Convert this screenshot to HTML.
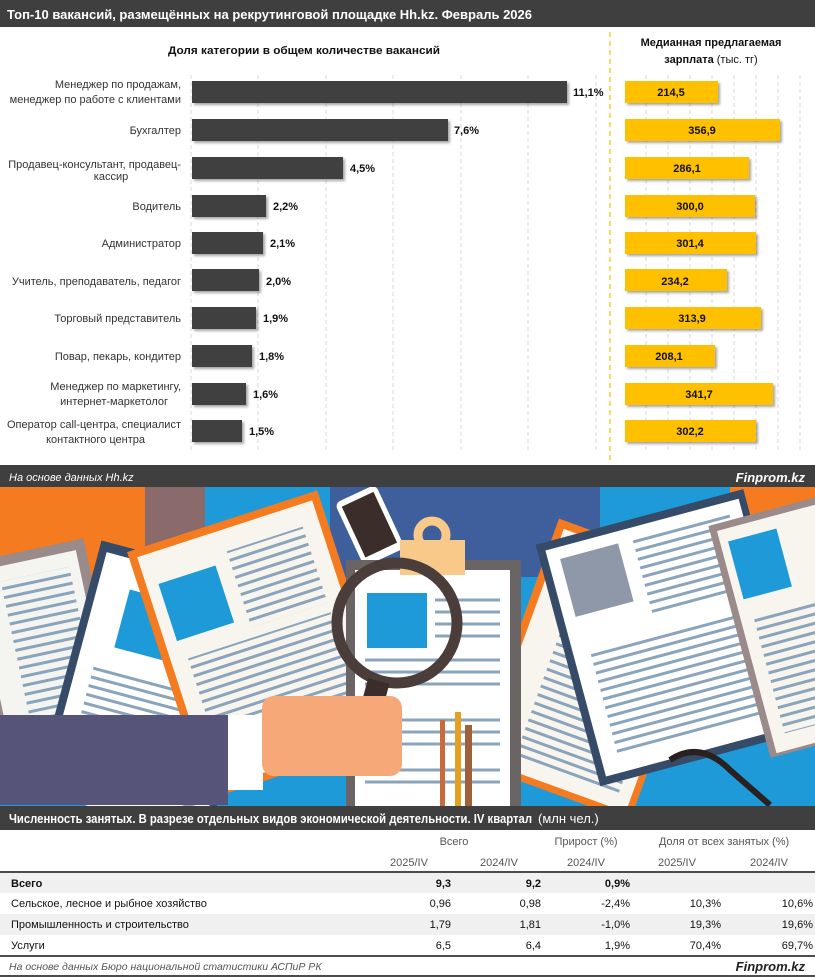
<!DOCTYPE html>
<html><head><meta charset="utf-8"><style>
body{margin:0;background:#fff;}
svg{display:block;font-family:"Liberation Sans","DejaVu Sans",sans-serif;}
</style></head><body>
<svg width="815" height="977" viewBox="0 0 815 977" xmlns="http://www.w3.org/2000/svg">
<defs>
<filter id="sh" x="-10%" y="-20%" width="130%" height="160%"><feDropShadow dx="2" dy="2" stdDeviation="1.2" flood-color="#000" flood-opacity="0.35"/></filter>
<clipPath id="ic"><rect x="0" y="487" width="815" height="319"/></clipPath>
<pattern id="ln" width="10" height="9" patternUnits="userSpaceOnUse"><rect width="10" height="3" fill="#8aa4bb"/></pattern>
</defs>
<rect width="815" height="977" fill="#fff"/>
<rect x="0" y="0" width="815" height="27" fill="#3f3f3f"/>
<text x="7" y="19" fill="#fff" font-size="13" font-weight="bold" textLength="525" lengthAdjust="spacingAndGlyphs">Топ-10 вакансий, размещённых на рекрутинговой площадке Hh.kz. Февраль 2026</text>
<text x="304" y="54" text-anchor="middle" font-size="11" font-weight="bold" fill="#111" textLength="272" lengthAdjust="spacingAndGlyphs">Доля категории в общем количестве вакансий</text>
<text x="711" y="46" text-anchor="middle" font-size="11" font-weight="bold" fill="#111">Медианная предлагаемая</text>
<text x="711" y="63" text-anchor="middle" font-size="11" fill="#111"><tspan font-weight="bold">зарплата</tspan> (тыс. тг)</text>
<g stroke="#d8d8d8" stroke-dasharray="4,3" stroke-width="1">
<line x1="191" y1="75" x2="191" y2="450"/><line x1="258" y1="75" x2="258" y2="450"/><line x1="326" y1="75" x2="326" y2="450"/><line x1="393" y1="75" x2="393" y2="450"/><line x1="461" y1="75" x2="461" y2="450"/><line x1="528" y1="75" x2="528" y2="450"/><line x1="596" y1="75" x2="596" y2="450"/>
<line x1="646" y1="75" x2="646" y2="450"/><line x1="668" y1="75" x2="668" y2="450"/><line x1="690" y1="75" x2="690" y2="450"/><line x1="712" y1="75" x2="712" y2="450"/><line x1="734" y1="75" x2="734" y2="450"/><line x1="756" y1="75" x2="756" y2="450"/><line x1="778" y1="75" x2="778" y2="450"/><line x1="800" y1="75" x2="800" y2="450"/>
</g>
<line x1="610" y1="32" x2="610" y2="460" stroke="#f5c000" stroke-dasharray="5,4" stroke-width="1.2"/>
<g font-size="11" fill="#333" text-anchor="end">
<text x="181" y="88">Менеджер по продажам,</text><text x="181" y="103">менеджер по работе с клиентами</text>
<text x="181" y="134">Бухгалтер</text>
<text x="181" y="168">Продавец-консультант, продавец-</text><text x="111" y="180" text-anchor="middle">кассир</text>
<text x="181" y="210">Водитель</text>
<text x="181" y="247">Администратор</text>
<text x="181" y="285">Учитель, преподаватель, педагог</text>
<text x="181" y="322">Торговый представитель</text>
<text x="181" y="360">Повар, пекарь, кондитер</text>
<text x="181" y="390">Менеджер по маркетингу,</text><text x="168" y="405">интернет-маркетолог</text>
<text x="181" y="428">Оператор call-центра, специалист</text><text x="145" y="443">контактного центра</text>
</g>
<g fill="#404040" filter="url(#sh)">
<rect x="192" y="81" width="375" height="22"/>
<rect x="192" y="119" width="256" height="22"/>
<rect x="192" y="157" width="151" height="22"/>
<rect x="192" y="195" width="74" height="22"/>
<rect x="192" y="232" width="71" height="22"/>
<rect x="192" y="269" width="67" height="22"/>
<rect x="192" y="307" width="64" height="22"/>
<rect x="192" y="345" width="60" height="22"/>
<rect x="192" y="383" width="54" height="22"/>
<rect x="192" y="420" width="50" height="22"/>
</g>
<g font-size="11" font-weight="bold" fill="#111">
<text x="573" y="96">11,1%</text><text x="454" y="134">7,6%</text><text x="350" y="172">4,5%</text><text x="273" y="210">2,2%</text><text x="270" y="247">2,1%</text><text x="266" y="285">2,0%</text><text x="263" y="322">1,9%</text><text x="259" y="360">1,8%</text><text x="253" y="398">1,6%</text><text x="249" y="435">1,5%</text>
</g>
<g fill="#ffc000" filter="url(#sh)">
<rect x="625" y="81" width="93" height="22"/>
<rect x="625" y="119" width="155" height="22"/>
<rect x="625" y="157" width="124" height="22"/>
<rect x="625" y="195" width="130" height="22"/>
<rect x="625" y="232" width="131" height="22"/>
<rect x="625" y="269" width="102" height="22"/>
<rect x="625" y="307" width="136" height="22"/>
<rect x="625" y="345" width="90" height="22"/>
<rect x="625" y="383" width="148" height="22"/>
<rect x="625" y="420" width="131" height="22"/>
</g>
<g font-size="11" font-weight="bold" fill="#111" text-anchor="middle">
<text x="671" y="96">214,5</text><text x="702" y="134">356,9</text><text x="687" y="172">286,1</text><text x="690" y="210">300,0</text><text x="690" y="247">301,4</text><text x="675" y="285">234,2</text><text x="692" y="322">313,9</text><text x="669" y="360">208,1</text><text x="699" y="398">341,7</text><text x="690" y="435">302,2</text>
</g>
<rect x="0" y="465" width="815" height="22" fill="#3f3f3f"/>
<text x="9" y="481" fill="#fff" font-size="11" font-style="italic">На основе данных Hh.kz</text>
<text x="805" y="482" fill="#fff" font-size="13" font-weight="bold" font-style="italic" text-anchor="end">Finprom.kz</text>
<g clip-path="url(#ic)">
<rect x="0" y="487" width="815" height="319" fill="#1e9ad8"/>
<rect x="0" y="487" width="145" height="180" fill="#f47b20"/>
<rect x="145" y="487" width="60" height="80" fill="#8a6a6a"/>
<rect x="330" y="487" width="270" height="90" fill="#3f5f9c"/>
<rect x="730" y="487" width="85" height="60" fill="#f47b20"/>
<g transform="rotate(-12 60 620)"><rect x="-20" y="545" width="120" height="200" fill="#9a8a8a"/><rect x="-15" y="555" width="105" height="190" fill="#f4f4f0"/><rect x="10" y="570" width="70" height="160" fill="url(#ln)"/></g>
<g transform="rotate(15 160 670)"><rect x="70" y="560" width="180" height="260" fill="#354b68"/><rect x="78" y="570" width="165" height="250" fill="#fff"/><rect x="110" y="600" width="60" height="60" fill="#1e9ad8"/><rect x="180" y="600" width="50" height="60" fill="url(#ln)"/><rect x="95" y="680" width="135" height="120" fill="url(#ln)"/></g>
<g transform="rotate(-18 245 640)"><rect x="160" y="520" width="200" height="260" fill="#f47b20"/><rect x="168" y="528" width="184" height="244" fill="#f7f5ee"/><rect x="180" y="560" width="60" height="60" fill="#1e9ad8"/><rect x="255" y="550" width="80" height="80" fill="url(#ln)"/><rect x="185" y="640" width="150" height="120" fill="url(#ln)"/></g>
<g transform="rotate(-25 370 520)"><rect x="345" y="490" width="45" height="70" rx="6" fill="#fff"/><rect x="350" y="496" width="35" height="56" fill="#3b2d2a"/></g>
<g transform="rotate(20 600 640)"><rect x="520" y="540" width="170" height="260" fill="#f47b20"/><rect x="528" y="548" width="155" height="245" fill="#f7f5ee"/><rect x="560" y="620" width="110" height="160" fill="url(#ln)"/></g>
<g transform="rotate(-15 680 620)"><rect x="560" y="510" width="215" height="250" fill="#354b68"/><rect x="568" y="518" width="200" height="234" fill="#fff"/><rect x="580" y="530" width="60" height="60" fill="#8f98a8"/><rect x="655" y="530" width="100" height="80" fill="url(#ln)"/><rect x="585" y="625" width="170" height="110" fill="url(#ln)"/></g>
<g transform="rotate(-15 780 600)"><rect x="730" y="510" width="130" height="240" fill="#9a8a8a"/><rect x="737" y="517" width="120" height="230" fill="#f7f5ee"/><rect x="745" y="530" width="50" height="60" fill="#1e9ad8"/><rect x="750" y="610" width="90" height="120" fill="url(#ln)"/></g>
<rect x="346" y="560" width="175" height="246" fill="#6a6464"/>
<rect x="355" y="570" width="155" height="236" fill="#fff"/>
<rect x="400" y="540" width="65" height="35" fill="#f9c98a"/>
<circle cx="432" cy="535" r="14" fill="none" stroke="#f9c98a" stroke-width="9"/>
<rect x="367" y="593" width="60" height="55" fill="#1e9ad8"/>
<g stroke="#8aa4bb" stroke-width="3">
<line x1="435" y1="600" x2="500" y2="600"/><line x1="435" y1="612" x2="500" y2="612"/><line x1="435" y1="624" x2="500" y2="624"/><line x1="435" y1="636" x2="500" y2="636"/><line x1="365" y1="660" x2="500" y2="660"/><line x1="365" y1="672" x2="500" y2="672"/><line x1="365" y1="684" x2="500" y2="684"/><line x1="365" y1="720" x2="500" y2="720"/><line x1="365" y1="732" x2="500" y2="732"/><line x1="365" y1="744" x2="500" y2="744"/><line x1="365" y1="770" x2="500" y2="770"/><line x1="365" y1="782" x2="500" y2="782"/>
</g>
<circle cx="397" cy="623" r="60" fill="none" stroke="#4a3d3a" stroke-width="11"/>
<rect x="360" y="680" width="22" height="60" fill="#3b2d2a" transform="rotate(15 371 710)"/>
<rect x="0" y="715" width="228" height="90" fill="#565479"/>
<rect x="228" y="715" width="35" height="75" fill="#fff"/>
<rect x="262" y="696" width="140" height="80" rx="12" fill="#f7a878"/>
<rect x="440" y="720" width="5" height="86" fill="#c86a3a"/><rect x="455" y="712" width="6" height="94" fill="#e6a020"/><rect x="465" y="725" width="7" height="81" fill="#a0603a"/>
<path d="M670 760 q30 -20 60 10 l40 35" fill="none" stroke="#2a2020" stroke-width="6"/>
</g>
<rect x="0" y="806" width="815" height="24" fill="#3f3f3f"/>
<text x="9" y="823" fill="#fff" font-size="13" font-weight="bold" textLength="523" lengthAdjust="spacingAndGlyphs">Численность занятых. В разрезе отдельных видов экономической деятельности. IV квартал</text>
<text x="538" y="823" fill="#fff" font-size="13">(млн чел.)</text>
<g font-size="11" fill="#555" text-anchor="middle">
<text x="454" y="845">Всего</text><text x="586" y="845">Прирост (%)</text><text x="724" y="845">Доля от всех занятых (%)</text>
<text x="409" y="866">2025/IV</text><text x="499" y="866">2024/IV</text><text x="586" y="866">2024/IV</text><text x="677" y="866">2025/IV</text><text x="769" y="866">2024/IV</text>
</g>
<line x1="0" y1="872" x2="815" y2="872" stroke="#111" stroke-width="1.5"/>
<rect x="0" y="873" width="815" height="20" fill="#f0f0f0"/>
<rect x="0" y="914" width="815" height="21" fill="#f0f0f0"/>
<g font-size="11" fill="#111">
<text x="11" y="887" font-weight="bold">Всего</text>
<text x="11" y="907">Сельское, лесное и рыбное хозяйство</text>
<text x="11" y="928">Промышленность и строительство</text>
<text x="11" y="949">Услуги</text>
</g>
<g font-size="11" fill="#111" text-anchor="end">
<g font-weight="bold"><text x="451" y="887">9,3</text><text x="541" y="887">9,2</text><text x="630" y="887">0,9%</text></g>
<text x="451" y="907">0,96</text><text x="541" y="907">0,98</text><text x="630" y="907">-2,4%</text><text x="721" y="907">10,3%</text><text x="813" y="907">10,6%</text>
<text x="451" y="928">1,79</text><text x="541" y="928">1,81</text><text x="630" y="928">-1,0%</text><text x="721" y="928">19,3%</text><text x="813" y="928">19,6%</text>
<text x="451" y="949">6,5</text><text x="541" y="949">6,4</text><text x="630" y="949">1,9%</text><text x="721" y="949">70,4%</text><text x="813" y="949">69,7%</text>
</g>
<line x1="0" y1="956" x2="815" y2="956" stroke="#111" stroke-width="1.5"/>
<text x="9" y="970" font-size="10.5" font-style="italic" fill="#555">На основе данных Бюро национальной статистики АСПиР РК</text>
<text x="805" y="971" font-size="13" font-weight="bold" font-style="italic" fill="#222" text-anchor="end">Finprom.kz</text>
<line x1="0" y1="976" x2="815" y2="976" stroke="#111" stroke-width="1.5"/>
</svg>
</body></html>
